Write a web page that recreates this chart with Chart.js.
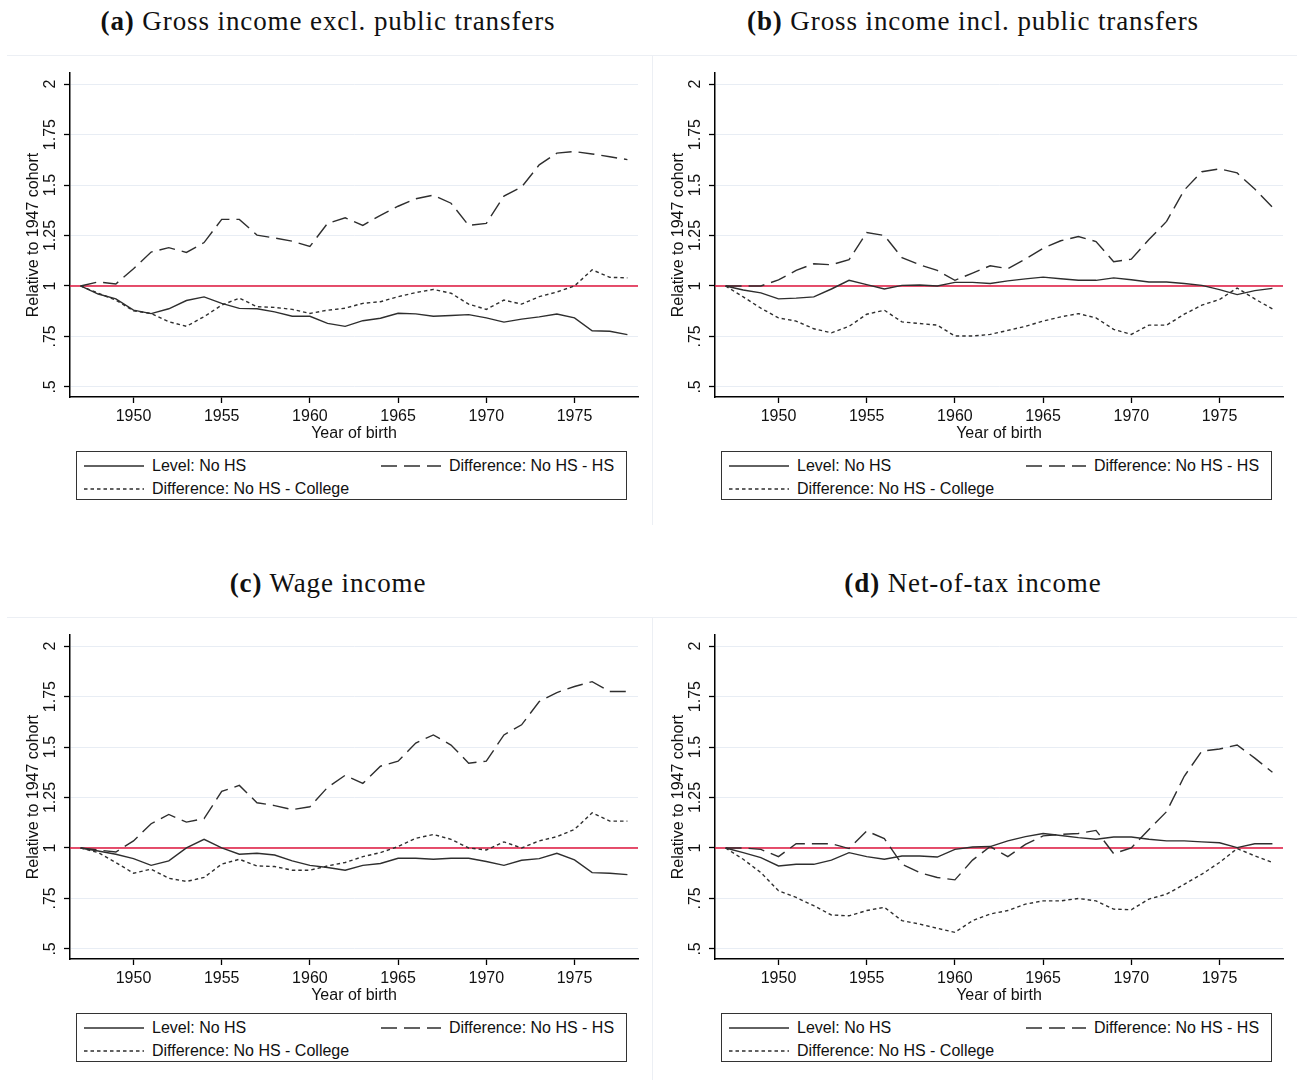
<!DOCTYPE html>
<html>
<head>
<meta charset="utf-8">
<script src="https://cdn.jsdelivr.net/npm/chart.js@4.4.0/dist/chart.umd.min.js"></script>
<style>
  body { margin:0; background:#fff; width:1297px; height:1080px; position:relative; overflow:hidden;
         font-family:"Liberation Sans", Arial, sans-serif; color:#111; }
  .ttl { position:absolute; font-family:"Liberation Serif","Times New Roman",serif; font-size:27px; letter-spacing:0.9px;
         line-height:1; white-space:nowrap; transform:translate(-50%,-50%); color:#111; }
  .hr { position:absolute; height:1px; background:#eceff4; }
  .vr { position:absolute; width:1px; background:#eceff4; }
  canvas { position:absolute; }
  .leg { position:absolute; width:549px; height:47px; border:1.5px solid #333; background:#fff; }
  .li { position:absolute; display:flex; align-items:center; height:18px; font-size:16px; white-space:nowrap; }
  .li svg { margin-right:8px; }
</style>
</head>
<body>
<script>
var YEARS = [1947,1948,1949,1950,1951,1952,1953,1954,1955,1956,1957,1958,1959,1960,1961,1962,
             1963,1964,1965,1966,1967,1968,1969,1970,1971,1972,1973,1974,1975,1976,1977,1978];
var X_TICKS = [1950,1955,1960,1965,1970,1975];
var Y_TICKS = [0.5,0.75,1,1.25,1.5,1.75,2];
var Y_TICK_LABELS = ['.5','.75','1','1.25','1.5','1.75','2'];
var X_MIN = 1946.4, X_MAX = 1978.6, Y_MIN = 0.45, Y_MAX = 2.055;
var REF_VALUE = 1;

var SERIES_LABELS = ['Level: No HS', 'Difference: No HS - HS', 'Difference: No HS - College'];
var PANEL_KEYS = ['(a)', '(b)', '(c)', '(d)'];
var PANEL_TITLES = ['Gross income excl. public transfers', 'Gross income incl. public transfers',
                    'Wage income', 'Net-of-tax income'];

// (a) gross income excl. public transfers
var A_LEVEL    = [1.000,0.960,0.936,0.880,0.863,0.887,0.928,0.946,0.914,0.889,0.887,0.872,0.850,0.850,0.815,0.800,
                  0.828,0.840,0.865,0.862,0.850,0.854,0.858,0.842,0.821,0.836,0.847,0.861,0.842,0.778,0.776,0.759];
var A_DIFF_HS  = [1.000,1.020,1.010,1.085,1.168,1.190,1.166,1.215,1.330,1.330,1.252,1.238,1.222,1.196,1.310,1.338,
                  1.300,1.350,1.395,1.432,1.450,1.410,1.300,1.310,1.445,1.490,1.600,1.658,1.666,1.654,1.640,1.626];
var A_DIFF_COL = [1.000,0.964,0.930,0.877,0.864,0.823,0.800,0.848,0.905,0.940,0.897,0.894,0.884,0.864,0.880,0.890,
                  0.914,0.922,0.947,0.967,0.983,0.964,0.910,0.884,0.930,0.910,0.947,0.970,1.000,1.080,1.043,1.040];
// (b) gross income incl. public transfers
var B_LEVEL    = [1.000,0.980,0.966,0.936,0.940,0.946,0.985,1.028,1.007,0.985,1.003,1.005,1.000,1.018,1.018,1.012,
                  1.025,1.035,1.044,1.036,1.028,1.028,1.040,1.031,1.020,1.020,1.012,1.003,0.982,0.957,0.977,0.988];
var B_DIFF_HS  = [1.000,1.000,1.000,1.030,1.077,1.110,1.105,1.130,1.265,1.250,1.140,1.105,1.077,1.028,1.064,1.100,
                  1.086,1.133,1.187,1.224,1.245,1.220,1.120,1.133,1.230,1.320,1.475,1.566,1.580,1.560,1.480,1.390];
var B_DIFF_COL = [1.000,0.946,0.890,0.842,0.826,0.788,0.768,0.800,0.860,0.880,0.822,0.814,0.806,0.752,0.752,0.760,
                  0.780,0.800,0.826,0.847,0.863,0.842,0.785,0.760,0.806,0.806,0.860,0.905,0.933,0.990,0.936,0.886];
// (c) wage income
var C_LEVEL    = [1.000,0.985,0.969,0.947,0.914,0.936,1.000,1.043,1.000,0.969,0.974,0.965,0.936,0.914,0.903,0.890,
                  0.914,0.923,0.949,0.949,0.944,0.949,0.949,0.933,0.914,0.939,0.947,0.974,0.941,0.878,0.875,0.868];
var C_DIFF_HS  = [1.000,0.990,0.980,1.035,1.120,1.166,1.128,1.145,1.280,1.310,1.224,1.210,1.190,1.204,1.300,1.360,
                  1.320,1.405,1.430,1.520,1.560,1.510,1.420,1.430,1.560,1.610,1.725,1.770,1.800,1.824,1.775,1.775];
var C_DIFF_COL = [1.000,0.977,0.928,0.875,0.895,0.850,0.834,0.854,0.920,0.944,0.911,0.908,0.890,0.890,0.911,0.928,
                  0.957,0.977,1.007,1.048,1.067,1.043,1.000,0.990,1.030,1.000,1.035,1.056,1.092,1.174,1.133,1.133];
// (d) net-of-tax income
var D_LEVEL    = [1.000,0.977,0.952,0.911,0.919,0.919,0.940,0.977,0.957,0.944,0.960,0.960,0.955,0.993,1.005,1.007,
                  1.035,1.056,1.072,1.062,1.051,1.043,1.054,1.054,1.043,1.035,1.035,1.030,1.026,1.002,1.021,1.021];
var D_DIFF_HS  = [1.000,1.000,0.993,0.957,1.021,1.021,1.021,0.997,1.084,1.046,0.920,0.878,0.854,0.842,0.940,1.007,
                  0.957,1.018,1.060,1.067,1.072,1.087,0.972,1.000,1.092,1.180,1.355,1.480,1.490,1.510,1.445,1.375];
var D_DIFF_COL = [1.000,0.944,0.878,0.788,0.755,0.714,0.668,0.664,0.690,0.706,0.640,0.623,0.602,0.582,0.640,0.673,
                  0.690,0.722,0.738,0.738,0.750,0.738,0.697,0.694,0.747,0.771,0.820,0.870,0.928,0.997,0.961,0.928];

var PANEL_SERIES = [[A_LEVEL, A_DIFF_HS, A_DIFF_COL], [B_LEVEL, B_DIFF_HS, B_DIFF_COL],
                    [C_LEVEL, C_DIFF_HS, C_DIFF_COL], [D_LEVEL, D_DIFF_HS, D_DIFF_COL]];

var LINE_COL = '#2e2e2e';
var DASHES = [[], [16, 7], [3.5, 3]];
var REF_COL = '#e0143c';

Chart.defaults.font.family = '"Liberation Sans", Arial, sans-serif';
Chart.defaults.font.size = 16;
Chart.defaults.color = '#111';

// red horizontal line at the 1947 level
var refLine = {
  id: 'refLine',
  beforeDatasetsDraw: function(chart) {
    var a = chart.chartArea, ctx = chart.ctx;
    var py = chart.scales.y.getPixelForValue(REF_VALUE);
    ctx.save();
    ctx.strokeStyle = REF_COL;
    ctx.lineWidth = 1.5;
    ctx.beginPath();
    ctx.moveTo(a.left, py);
    ctx.lineTo(a.right, py);
    ctx.stroke();
    ctx.restore();
  }
};

function addDiv(cls, css, html) {
  var d = document.createElement('div');
  d.className = cls;
  d.style.cssText = css;
  if (html) d.innerHTML = html;
  document.body.appendChild(d);
  return d;
}

function legendHtml() {
  var spots = [[7, 5], [304, 5], [7, 28]];
  var h = '';
  SERIES_LABELS.forEach(function(lab, i) {
    h += '<div class="li" style="left:' + spots[i][0] + 'px;top:' + spots[i][1] + 'px">';
    h += '<svg width="60" height="4"><line x1="0" y1="2" x2="60" y2="2" stroke="' + LINE_COL + '" stroke-width="1.4"' +
         (DASHES[i].length ? ' stroke-dasharray="' + DASHES[i].join(' ') + '"' : '') + '/></svg>';
    h += '<span>' + lab + '</span></div>';
  });
  return h;
}

function makePanel(p) {
  var dx = (p % 2) * 645, dy = Math.floor(p / 2) * 562;

  addDiv('hr', 'left:' + (7 + dx) + 'px;top:' + (55 + dy) + 'px;width:645px');
  if (p % 2) addDiv('vr', 'left:652px;top:' + (55 + dy) + 'px;height:470px');
  addDiv('ttl', 'left:' + (328 + dx) + 'px;top:' + (21 + dy) + 'px', '<b>' + PANEL_KEYS[p] + '</b> ' + PANEL_TITLES[p]);
  addDiv('leg', 'left:' + (76 + dx) + 'px;top:' + (451 + dy) + 'px', legendHtml());

  var cv = document.createElement('canvas');
  cv.width = 650; cv.height = 400;
  cv.style.left = dx + 'px';
  cv.style.top = (56 + dy) + 'px';
  document.body.appendChild(cv);

  new Chart(cv, {
    type: 'line',
    data: {
      labels: YEARS,
      datasets: PANEL_SERIES[p].map(function(s, i) {
        return { label: SERIES_LABELS[i], data: s, borderColor: LINE_COL, borderWidth: 1.4,
                 borderDash: DASHES[i], pointRadius: 0, tension: 0, fill: false };
      })
    },
    options: {
      responsive: false, animation: false,
      layout: { padding: { left: 0, right: 12, top: 17, bottom: 0 } },
      plugins: { legend: { display: false }, tooltip: { enabled: false } },
      scales: {
        x: {
          type: 'linear', min: X_MIN, max: X_MAX,
          afterFit: function(s) { s.height = 59; },
          afterBuildTicks: function(s) { s.ticks = X_TICKS.map(function(v) { return { value: v }; }); },
          grid: { drawOnChartArea: false, tickLength: 6, tickColor: '#000', tickWidth: 1.3 },
          border: { color: '#000', width: 1.5 },
          ticks: { padding: 4, maxRotation: 0, callback: function(v) { return String(v); } },
          title: { display: true, text: 'Year of birth', padding: { top: 0, bottom: 13 } }
        },
        y: {
          min: Y_MIN, max: Y_MAX,
          afterFit: function(s) { s.width = 70; },
          afterBuildTicks: function(s) { s.ticks = Y_TICKS.map(function(v) { return { value: v }; }); },
          grid: { color: '#e8edf4', lineWidth: 1, tickLength: 6, tickColor: '#000', tickWidth: 1.3 },
          border: { color: '#000', width: 1.5 },
          ticks: { minRotation: 90, maxRotation: 90, crossAlign: 'center', padding: -2.5,
                   callback: function(v) { return Y_TICK_LABELS[Y_TICKS.indexOf(v)]; } },
          title: { display: true, text: 'Relative to 1947 cohort', padding: { top: 24, bottom: 0 } }
        }
      }
    },
    plugins: [refLine]
  });
}

[0, 1, 2, 3].forEach(makePanel);
</script>
</body>
</html>
